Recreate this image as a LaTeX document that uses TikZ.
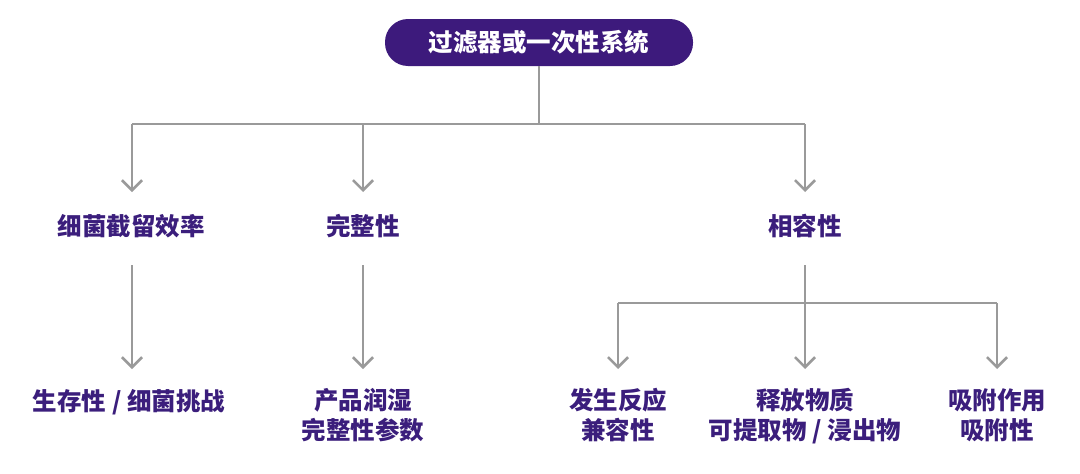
\documentclass[tikz,border=0pt]{standalone}
\usepackage{fontspec}
\newfontfamily\cjk{Noto Sans CJK SC}
\usetikzlibrary{arrows.meta}
\definecolor{boxpurple}{HTML}{3D1A7C}
\definecolor{txtpurple}{HTML}{3B1E7C}
\definecolor{linegray}{HTML}{9A9A9A}
\tikzset{
  lbl/.style={font=\cjk\bfseries\fontsize{24.5}{30}\selectfont, text=txtpurple, align=center, inner sep=0pt},
  conn/.style={draw=linegray, line width=2.6pt},
  arr/.style={conn, -{Straight Barb[length=10pt,width=20pt,line width=2.6pt]}},
}
\begin{document}
\begin{tikzpicture}[x=1pt,y=-1pt]
\useasboundingbox (0,0) rectangle (1080,474);
\fill[white] (0,0) rectangle (1080,474);
% root
\node[fill=boxpurple, rounded corners=23pt, minimum width=308pt, minimum height=47pt, inner sep=0pt,
  font=\cjk\bfseries\fontsize{24.5}{28}\selectfont, text=white] (root) at (539,42.5) {过滤器或一次性系统};
% level 1 labels
\node[lbl] (n1) at (131,226) {细菌截留效率};
\node[lbl] (n2) at (363,226) {完整性};
\node[lbl] (n3) at (805,226) {相容性};
% level 2 labels
\node[lbl] (m1) at (129,402) {生存性 / 细菌挑战};
\node[lbl, anchor=north] (m2) at (363,388) {产品润湿\\完整性参数};
\node[lbl, anchor=north] (m3) at (618,388) {发生反应\\兼容性};
\node[lbl, anchor=north] (m4) at (805,388) {释放物质\\可提取物 / 浸出物};
\node[lbl, anchor=north] (m5) at (997,388) {吸附作用\\吸附性};
% coordinates
\coordinate (j0) at (539,124);
\coordinate (jl) at (132,124);
\coordinate (jm) at (363,124);
\coordinate (jr) at (805,124);
\coordinate (t1) at (132,192);
\coordinate (t2) at (363,192);
\coordinate (t3) at (805,192);
\coordinate (s1) at (132,265);
\coordinate (s2) at (363,265);
\coordinate (s3) at (805,265);
\coordinate (u1) at (132,369);
\coordinate (u2) at (363,369);
\coordinate (k0) at (805,303);
\coordinate (kl) at (618,303);
\coordinate (kr) at (997,303);
\coordinate (u3) at (618,369);
\coordinate (u4) at (805,369);
\coordinate (u5) at (997,369);
% connectors
\draw[conn] (root.south) -- (j0);
\draw[conn] (jl) -- (jr);
\draw[arr] (jl) -- (t1);
\draw[arr] (jm) -- (t2);
\draw[arr] (jr) -- (t3);
\draw[arr] (s1) -- (u1);
\draw[arr] (s2) -- (u2);
\draw[arr] (s3) -- (u4);
\draw[conn] (kl) -- (kr);
\draw[arr] (kl) -- (u3);
\draw[arr] (kr) -- (u5);
\end{tikzpicture}
\end{document}
